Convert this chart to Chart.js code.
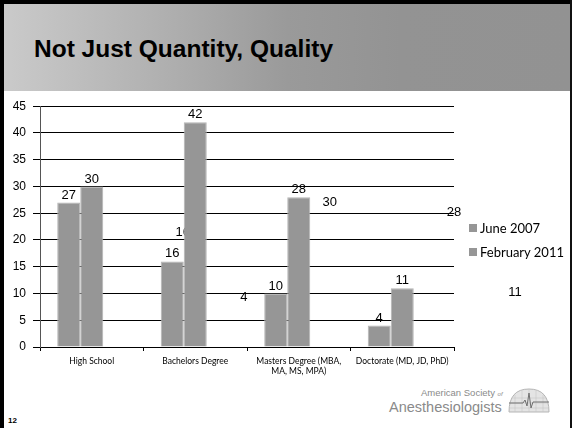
<!DOCTYPE html>
<html>
<head>
<meta charset="utf-8">
<title>Not Just Quantity, Quality</title>
<script src="https://cdn.jsdelivr.net/npm/chart.js@4/dist/chart.umd.min.js"></script>
<style>
  body { margin: 0; background: #fff; }
  .slide { position: relative; width: 573px; height: 428px; background: #fff; overflow: hidden; font-family: "Liberation Sans", Arial, sans-serif; }
  .frame-left { position: absolute; left: 0; top: 0; width: 4px; height: 428px; background: #000; }
  .frame-top { position: absolute; left: 0; top: 0; width: 572px; height: 4px; background: #000; }
  .frame-right { position: absolute; left: 570px; top: 0; width: 2px; height: 428px; background: #111; }
  .header { position: absolute; left: 4px; top: 4px; width: 566px; height: 87px;
    background: linear-gradient(to right, #cacaca 0%, #b0b0b0 28%, #9a9a9a 50%, #939393 70%, #929292 100%); }
  .title { position: absolute; left: 34px; top: 35px; font-weight: bold; font-size: 24.5px; color: #000; white-space: nowrap; }
  #chartBox { position: absolute; left: 4px; top: 92px; width: 566px; height: 292px; }
  .legend { position: absolute; left: 469px; top: 219px; font-family: Lato, "Open Sans", sans-serif; font-size: 13px; color: #000; }
  .legend div { height: 24px; line-height: 18px; white-space: nowrap; }
  .legend span { display: inline-block; width: 8px; height: 8px; margin-right: 3px; vertical-align: 1px; }
  .page-no { position: absolute; left: 8px; top: 416px; font-size: 8px; font-weight: bold; }
  .logo-small { position: absolute; left: 421px; top: 387px; font-size: 9.5px; color: #8a8a8a; white-space: nowrap; }
  .logo-small i { font-size: 6px; }
  .logo-big { position: absolute; left: 389px; top: 399px; font-size: 14.5px; color: #8a8a8a; white-space: nowrap; }
  .logo-icon { position: absolute; left: 507px; top: 387px; }
</style>
</head>
<body>
<div class="slide">
  <div class="header"></div>
  <div class="frame-left"></div>
  <div class="frame-top"></div>
  <div class="frame-right"></div>
  <div class="title">Not Just Quantity, Quality</div>

  <div id="chartBox"><canvas id="degreeChart"></canvas></div>
  <div class="legend" id="legend"></div>

  <div class="logo-small">American Society <i>of</i></div>
  <div class="logo-big">Anesthesiologists</div>
  <svg class="logo-icon" width="44" height="26" viewBox="0 0 44 26">
    <path d="M2 25 Q2 2 22 2 Q42 2 42 25 Z" fill="#e4e4e4" stroke="#b5b5b5" stroke-width="1"/>
    <path d="M8 8 V25 M15 4 V25 M22 2 V25 M29 4 V25 M36 8 V25 M3 16 H41 M2 21 H42 M5 11 H39" stroke="#c8c8c8" stroke-width="0.6" fill="none"/>
    <path d="M2 16 H16 L18 13 L20 19 L22 6 L24 21 L26 15 H42" stroke="#707070" stroke-width="1" fill="none"/>
  </svg>
  <div class="page-no">12</div>
</div>

<script>
// Education level of members, two survey dates
const categories = ['High School', 'Bachelors Degree', ['Masters Degree (MBA,', 'MA, MS, MPA)'], 'Doctorate (MD, JD, PhD)'];
const june2007 = [27, 16, 10, 4];
const feb2011 = [30, 42, 28, 11];
const yTicks = { min: 0, max: 45, step: 5 };

// leftover labels from an older layout of this chart, placed in axis units
const strayText = ['16', '4', '30', '28', '11'];
const strayCat = [0.88, 1.47, 2.30, 3.50, 4.09];
const strayVal = [21.4, 9.3, 27.0, 25.1, 10.2];

const barGray = '#969696';

const valueLabels = {
    id: 'valueLabels',
    afterDatasetsDraw(chart) {
        const ctx = chart.ctx;
        ctx.save();
        ctx.font = '13px "Liberation Sans", Arial, sans-serif';
        ctx.fillStyle = '#000';
        ctx.textAlign = 'center';
        ctx.textBaseline = 'bottom';
        [0, 1].forEach(i => {
            const meta = chart.getDatasetMeta(i);
            meta.data.forEach((bar, j) => {
                ctx.fillText(String(chart.data.datasets[i].data[j]), bar.x, bar.y - 1);
            });
        });
        ctx.restore();
    }
};

const strayLabels = {
    id: 'strayLabels',
    beforeDraw(chart) {
        const ctx = chart.ctx;
        const x = chart.scales.x;
        const y = chart.scales.y;
        ctx.save();
        ctx.font = '13px "Liberation Sans", Arial, sans-serif';
        ctx.fillStyle = '#000';
        ctx.textAlign = 'center';
        ctx.textBaseline = 'middle';
        strayText.forEach((t, i) => {
            ctx.fillText(t, x.getPixelForValue(strayCat[i]), y.getPixelForValue(strayVal[i]));
        });
        ctx.restore();
    }
};

const chart = new Chart(document.getElementById('degreeChart'), {
    type: 'bar',
    data: {
        labels: categories,
        datasets: [
            { label: 'June 2007', data: june2007, backgroundColor: barGray, borderColor: '#b4b4b4', borderWidth: 1 },
            { label: 'February 2011', data: feb2011, backgroundColor: barGray, borderColor: '#b4b4b4', borderWidth: 1 },
            // empty third slot keeps the pair sitting left in each group
            { label: '', data: [null, null, null, null] }
        ]
    },
    options: {
        responsive: true,
        maintainAspectRatio: false,
        animation: false,
        events: [],
        layout: { padding: { left: 0, right: 116, top: 12, bottom: 0 } },
        datasets: { bar: { categoryPercentage: 0.667, barPercentage: 1 } },
        plugins: { legend: { display: false }, tooltip: { enabled: false } },
        scales: {
            x: {
                afterFit(scale) { scale.height = 37; },
                grid: { drawOnChartArea: false, tickLength: 4, color: '#000' },
                border: { color: '#000' },
                ticks: {
                    color: '#000',
                    padding: 5,
                    maxRotation: 0,
                    autoSkip: false,
                    font: { family: 'Lato, "Open Sans", sans-serif', size: 8.5 }
                }
            },
            y: {
                min: yTicks.min,
                max: yTicks.max,
                afterFit(scale) { scale.width = 36; },
                grid: { color: '#000', lineWidth: 1, tickLength: 7 },
                border: { color: '#555' },
                ticks: {
                    stepSize: yTicks.step,
                    color: '#000',
                    padding: 7,
                    font: { family: '"Liberation Sans", Arial, sans-serif', size: 12 }
                }
            }
        }
    },
    plugins: [strayLabels, valueLabels]
});

// legend for the two real series
const legend = document.getElementById('legend');
chart.data.datasets.slice(0, 2).forEach(ds => {
    const row = document.createElement('div');
    row.innerHTML = `<span style="background:${ds.backgroundColor}"></span>${ds.label}`;
    legend.appendChild(row);
});
</script>
</body>
</html>
